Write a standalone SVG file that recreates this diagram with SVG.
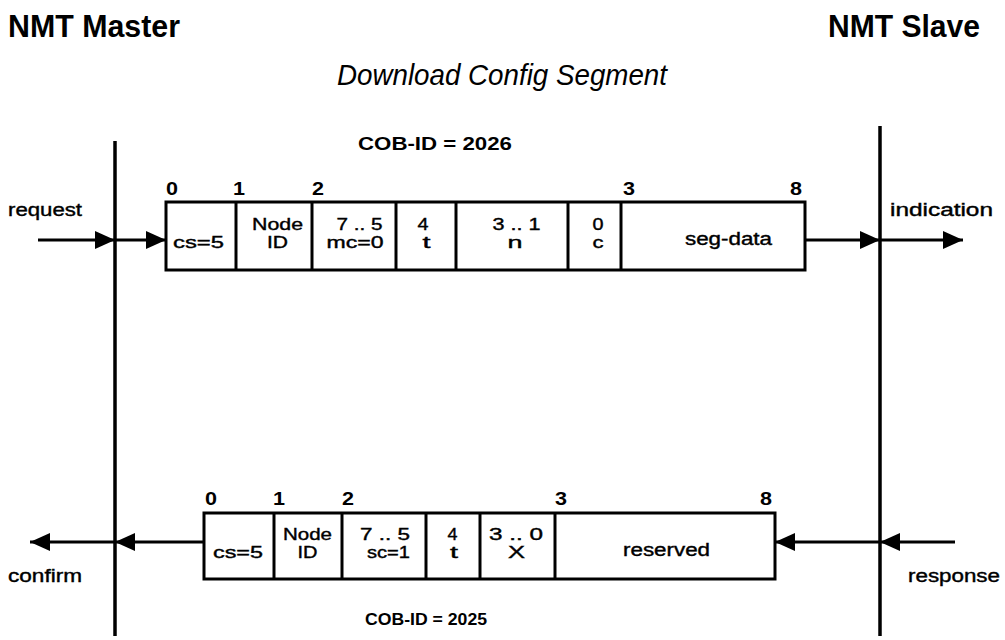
<svg xmlns="http://www.w3.org/2000/svg" width="1005" height="640" viewBox="0 0 1005 640">
<style>
text{font-family:"Liberation Sans",Arial,Helvetica,sans-serif;fill:#000}
.s{font-size:17px;stroke:#000;stroke-width:0.4}
.m{text-anchor:middle}
.b{font-weight:bold}
.h{font-size:32px;font-weight:bold}
.i{font-size:30px;font-style:italic}
.d{font-size:18px;font-weight:bold}
.box{fill:#fff;stroke:#000;stroke-width:3}
.div{stroke:#000;stroke-width:3}
.life{stroke:#000;stroke-width:3.5}
.con{stroke:#000;stroke-width:3;fill:none;marker-end:url(#ah)}
</style>
<defs>
<marker id="ah" markerUnits="userSpaceOnUse" markerWidth="20" markerHeight="18" refX="20" refY="9" orient="auto">
<path d="M0,0 L20,9 L0,18 z" fill="#000"/>
</marker>
</defs>
<rect width="1005" height="640" fill="#fff"/>

<g id="titles">
<text class="h" x="8" y="37" textLength="172" lengthAdjust="spacingAndGlyphs">NMT Master</text>
<text class="h" x="828" y="37" textLength="152" lengthAdjust="spacingAndGlyphs">NMT Slave</text>
<text class="i m" x="502" y="85" textLength="330" lengthAdjust="spacingAndGlyphs">Download Config Segment</text>
</g>

<g id="master-lifeline"><line class="life" x1="115" y1="141" x2="115" y2="636"/></g>
<g id="slave-lifeline"><line class="life" x1="880" y1="126" x2="880" y2="636"/></g>

<g id="connectors">
<path class="con" d="M38,240 H115"/>
<path class="con" d="M115,240 H166"/>
<path class="con" d="M805,240 H880"/>
<path class="con" d="M880,240 H963"/>
<path class="con" d="M204,542 H115"/>
<path class="con" d="M115,542 H30"/>
<path class="con" d="M955,542 H880"/>
<path class="con" d="M880,542 H775"/>
</g>

<g id="labels">
<text class="s" x="8" y="216" style="font-size:18px" textLength="74" lengthAdjust="spacingAndGlyphs">request</text>
<text class="s" x="890" y="216" style="font-size:18px" textLength="103" lengthAdjust="spacingAndGlyphs">indication</text>
<text class="s" x="8" y="582" style="font-size:18px" textLength="74" lengthAdjust="spacingAndGlyphs">confirm</text>
<text class="s" x="908" y="582" style="font-size:18px" textLength="92" lengthAdjust="spacingAndGlyphs">response</text>
</g>

<g id="request-frame">
<text class="b m" x="435" y="150" style="font-size:19px" textLength="154" lengthAdjust="spacingAndGlyphs">COB-ID = 2026</text>
<text class="d" x="166" y="195" textLength="12" lengthAdjust="spacingAndGlyphs">0</text>
<text class="d" x="233" y="195" textLength="12" lengthAdjust="spacingAndGlyphs">1</text>
<text class="d" x="312" y="195" textLength="12" lengthAdjust="spacingAndGlyphs">2</text>
<text class="d" x="623" y="195" textLength="12" lengthAdjust="spacingAndGlyphs">3</text>
<text class="d" x="790" y="195" textLength="12" lengthAdjust="spacingAndGlyphs">8</text>
<rect class="box" x="166" y="202" width="639" height="68"/>
<line class="div" x1="236" y1="202" x2="236" y2="270"/>
<line class="div" x1="312" y1="202" x2="312" y2="270"/>
<line class="div" x1="396" y1="202" x2="396" y2="270"/>
<line class="div" x1="456" y1="202" x2="456" y2="270"/>
<line class="div" x1="568" y1="202" x2="568" y2="270"/>
<line class="div" x1="621" y1="202" x2="621" y2="270"/>
<text class="s m" x="198.5" y="248" textLength="51" lengthAdjust="spacingAndGlyphs">cs=5</text>
<text class="s m" x="277.5" y="230" textLength="51" lengthAdjust="spacingAndGlyphs">Node</text>
<text class="s m" x="277.5" y="248" textLength="21" lengthAdjust="spacingAndGlyphs">ID</text>
<text class="s m" x="359.5" y="230" textLength="46" lengthAdjust="spacingAndGlyphs">7 .. 5</text>
<text class="s m" x="355" y="248" textLength="57" lengthAdjust="spacingAndGlyphs">mc=0</text>
<text class="s m" x="423" y="230" textLength="11" lengthAdjust="spacingAndGlyphs">4</text>
<text class="s m" x="426.5" y="248" textLength="8" lengthAdjust="spacingAndGlyphs">t</text>
<text class="s m" x="516.5" y="230" textLength="48" lengthAdjust="spacingAndGlyphs">3 .. 1</text>
<text class="s m" x="515" y="248" textLength="15" lengthAdjust="spacingAndGlyphs">n</text>
<text class="s m" x="598" y="230" textLength="11" lengthAdjust="spacingAndGlyphs">0</text>
<text class="s m" x="598" y="248" textLength="11" lengthAdjust="spacingAndGlyphs">c</text>
<text class="s m" x="728.5" y="245" style="font-size:18px" textLength="87" lengthAdjust="spacingAndGlyphs">seg-data</text>
</g>

<g id="response-frame">
<text class="d" x="205" y="505" textLength="12" lengthAdjust="spacingAndGlyphs">0</text>
<text class="d" x="273" y="505" textLength="12" lengthAdjust="spacingAndGlyphs">1</text>
<text class="d" x="342" y="505" textLength="12" lengthAdjust="spacingAndGlyphs">2</text>
<text class="d" x="555" y="505" textLength="12" lengthAdjust="spacingAndGlyphs">3</text>
<text class="d" x="760" y="505" textLength="12" lengthAdjust="spacingAndGlyphs">8</text>
<rect class="box" x="204" y="513" width="571" height="66"/>
<line class="div" x1="274" y1="513" x2="274" y2="579"/>
<line class="div" x1="342" y1="513" x2="342" y2="579"/>
<line class="div" x1="426" y1="513" x2="426" y2="579"/>
<line class="div" x1="480" y1="513" x2="480" y2="579"/>
<line class="div" x1="555" y1="513" x2="555" y2="579"/>
<text class="s m" x="238" y="558" textLength="50" lengthAdjust="spacingAndGlyphs">cs=5</text>
<text class="s m" x="307.5" y="540" textLength="49" lengthAdjust="spacingAndGlyphs">Node</text>
<text class="s m" x="307.5" y="558" textLength="20" lengthAdjust="spacingAndGlyphs">ID</text>
<text class="s m" x="385" y="540" textLength="50" lengthAdjust="spacingAndGlyphs">7 .. 5</text>
<text class="s m" x="388.5" y="558" textLength="43" lengthAdjust="spacingAndGlyphs">sc=1</text>
<text class="s m" x="452.5" y="540" textLength="10" lengthAdjust="spacingAndGlyphs">4</text>
<text class="s m" x="454" y="558" textLength="8" lengthAdjust="spacingAndGlyphs">t</text>
<text class="s m" x="516" y="540" textLength="54" lengthAdjust="spacingAndGlyphs">3 .. 0</text>
<text class="s m" x="516.5" y="558" textLength="17" lengthAdjust="spacingAndGlyphs">X</text>
<text class="s m" x="666.5" y="556" style="font-size:18px" textLength="87" lengthAdjust="spacingAndGlyphs">reserved</text>
<text class="b m" x="426" y="625" style="font-size:17px" textLength="122" lengthAdjust="spacingAndGlyphs">COB-ID = 2025</text>
</g>
</svg>
